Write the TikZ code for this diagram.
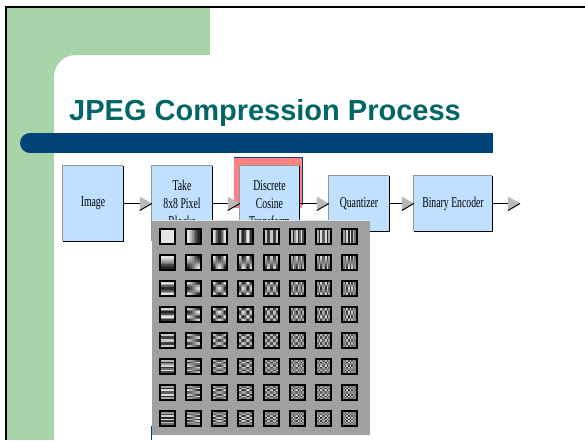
\documentclass[tikz,border=0pt]{standalone}
\usepackage{fontspec}
\setmainfont{Liberation Serif}
\newfontfamily\titlefont{Liberation Sans}
\usetikzlibrary{calc}
\definecolor{slidegreen}{RGB}{168,212,170}
\definecolor{barblue}{RGB}{0,67,120}
\definecolor{titleteal}{RGB}{0,102,102}
\definecolor{boxblue}{RGB}{192,224,255}
\definecolor{hilite}{RGB}{255,128,128}
\definecolor{bevelgray}{RGB}{150,150,150}
\definecolor{tipgray}{RGB}{185,185,185}
\definecolor{panelgray}{RGB}{160,160,160}
\newcommand\narrow[1]{\scalebox{0.65}[1]{#1}}
% gray arrowhead whose tip sits on the given point
\newcommand\flowtip[1]{%
  \begin{scope}[shift={#1}]
    \fill[tipgray] (0,0) -- (-12,-7) -- (-12,7) -- cycle;
    \draw[black,line width=1] (-12,7) -- (0,0);
  \end{scope}}
\begin{document}
\begin{tikzpicture}[x=1pt,y=-1pt,
  procbox/.style={fill=boxblue, inner sep=0pt, align=center,
    font=\fontsize{15}{18}\selectfont},
  flow/.style={draw=black, line width=1}]
\useasboundingbox (0,0) rectangle (585,440);
\fill[white] (0,0) rectangle (585,440);
\clip (0,0) rectangle (585,440);

% slide background
\fill[slidegreen] (7,8) rectangle (210,440);
\fill[white, rounded corners=22] (54,55) rectangle (640,480);
\draw[black, line width=2] (6,440) -- (6,7) -- (585,7);

% title and bar
\node[anchor=base west, inner sep=0pt, text=titleteal,
  font=\titlefont\bfseries\fontsize{29}{34}\selectfont] (title) at (69,120)
  {JPEG Compression Process};
\fill[barblue] (30,133) rectangle (493,153);
\fill[barblue] (30,143) circle (10);

% highlight behind the transform step
\fill[hilite] (234,157) rectangle (302,208);
\draw[barblue, line width=1] (234,157.5) -- (302.5,157.5) -- (302.5,205);

% process steps
\node[procbox, minimum width=60, minimum height=75] (img) at (93,203.5)
  {\narrow{Image}};
\node[procbox, minimum width=60, minimum height=75] (blk) at (182,203.5)
  {\narrow{Take}\\\narrow{8x8 Pixel}\\\narrow{Blocks}};
\node[procbox, minimum width=59, minimum height=75] (dct) at (269.5,203.5)
  {\narrow{Discrete}\\\narrow{Cosine}\\\narrow{Transform}};
\node[procbox, minimum width=60, minimum height=55] (qnt) at (359,203.5)
  {\narrow{Quantizer}};
\node[procbox, minimum width=78, minimum height=55] (enc) at (453,203.5)
  {\narrow{Binary Encoder}};

\foreach \n in {img,blk,dct,qnt,enc}{
  \draw[bevelgray, line width=1.2] (\n.south west) -- (\n.north west) -- (\n.north east);
  \draw[black, line width=1.6] ($(\n.north east)+(0.3,0)$) -- ($(\n.south east)+(0.3,0.3)$)
    -- ($(\n.south west)+(0,0.3)$);
}

% connectors
\coordinate (out) at (520,203.5);
\draw[flow] (img.east) -- (blk.west);  \flowtip{(blk.west)}
\draw[flow] (blk.east) -- (dct.west);  \flowtip{(dct.west)}
\draw[flow] (dct.east) -- (qnt.west);  \flowtip{(qnt.west)}
\draw[flow] (qnt.east) -- (enc.west);  \flowtip{(enc.west)}
\draw[flow] (enc.east) -- (out);       \flowtip{(out)}

% 8x8 DCT basis functions
\fill[panelgray] (152,220) rectangle (370,435);
\draw[white!75!gray, line width=1] (152,220.5) -- (370,220.5);
\draw[barblue, line width=1] (151.5,426) -- (151.5,440);
\foreach \r in {0,...,7}{
  \foreach \c in {0,...,7}{
    \pgfmathsetmacro\tx{159+26*\c}
    \pgfmathsetmacro\ty{228+26*\r}
    \foreach \i in {0,...,7}{
      \foreach \j in {0,...,7}{
        \pgfmathtruncatemacro\g{52+38*cos((2*\i+1)*\c*11.25)*cos((2*\j+1)*\r*11.25)}
        \fill[white!\g!black] (\tx+2+1.625*\i,\ty+2+1.625*\j) rectangle ++(1.7,1.7);
      }}
    \draw[black, line width=2] (\tx+1,\ty+1) rectangle (\tx+16,\ty+16);
  }}
\end{tikzpicture}
\end{document}
